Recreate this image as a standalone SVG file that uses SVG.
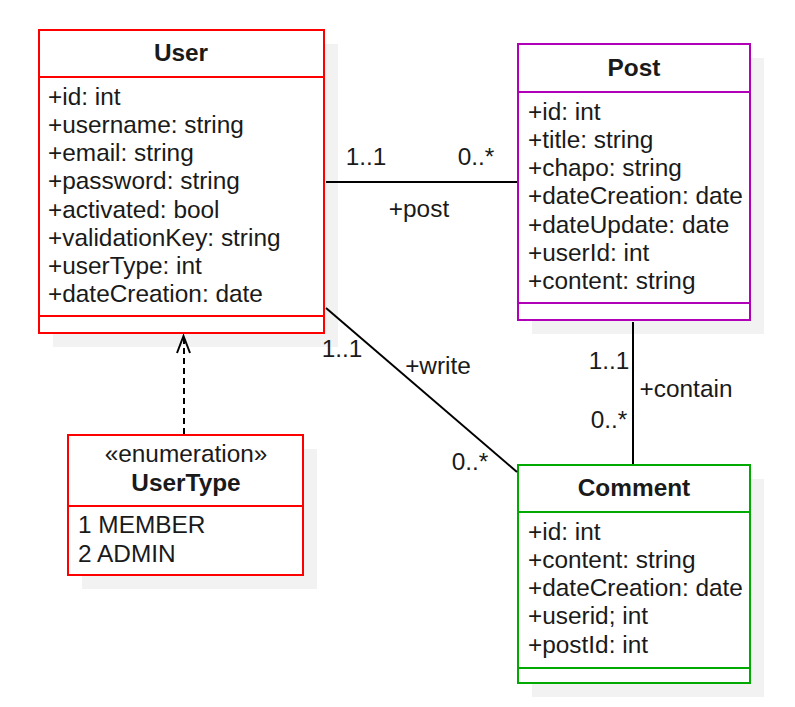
<svg xmlns="http://www.w3.org/2000/svg" width="795" height="707" viewBox="0 0 795 707">
<style>
text{font-family:"Liberation Sans",Arial,sans-serif;font-size:24.4px;fill:#1a1a1a}
.t{font-weight:bold;text-anchor:middle}
.c{text-anchor:middle}
.sh{fill:#f2f2f2;stroke:none}
.box{fill:#fff;stroke-width:2}
.ln{stroke-width:2;fill:none}
.e{stroke:#000;stroke-width:2;fill:none}
</style>
<g id="User">
<rect class="sh" x="53" y="44" width="285" height="303"/>
<rect class="box" x="39" y="30" width="285" height="303" stroke="#ff0000"/>
<line class="ln" x1="39" y1="77" x2="324" y2="77" stroke="#ff0000"/>
<line class="ln" x1="39" y1="316" x2="324" y2="316" stroke="#ff0000"/>
<text x="181" y="61" class="t">User</text>
<text x="48" y="105">+id: int</text>
<text x="48" y="133">+username: string</text>
<text x="48" y="161">+email: string</text>
<text x="48" y="189">+password: string</text>
<text x="48" y="218">+activated: bool</text>
<text x="48" y="246">+validationKey: string</text>
<text x="48" y="274">+userType: int</text>
<text x="48" y="302">+dateCreation: date</text>
</g>
<g id="Post">
<rect class="sh" x="532" y="58" width="232" height="276"/>
<rect class="box" x="518" y="44" width="232" height="276" stroke="#b000b8"/>
<line class="ln" x1="518" y1="92" x2="750" y2="92" stroke="#b000b8"/>
<line class="ln" x1="518" y1="303" x2="750" y2="303" stroke="#b000b8"/>
<text x="634" y="76" class="t">Post</text>
<text x="528" y="120">+id: int</text>
<text x="528" y="148">+title: string</text>
<text x="528" y="176">+chapo: string</text>
<text x="528" y="204">+dateCreation: date</text>
<text x="528" y="233">+dateUpdate: date</text>
<text x="528" y="261">+userId: int</text>
<text x="528" y="289">+content: string</text>
</g>
<g id="Comment">
<rect class="sh" x="532" y="479" width="232" height="218"/>
<rect class="box" x="518" y="465" width="232" height="218" stroke="#00aa00"/>
<line class="ln" x1="518" y1="512" x2="750" y2="512" stroke="#00aa00"/>
<line class="ln" x1="518" y1="668" x2="750" y2="668" stroke="#00aa00"/>
<text x="634" y="496" class="t">Comment</text>
<text x="528" y="540">+id: int</text>
<text x="528" y="568">+content: string</text>
<text x="528" y="596">+dateCreation: date</text>
<text x="528" y="624">+userid; int</text>
<text x="528" y="653">+postId: int</text>
</g>
<g id="UserType">
<rect class="sh" x="82" y="449" width="235" height="140"/>
<rect class="box" x="68" y="435" width="235" height="140" stroke="#ff0000"/>
<line class="ln" x1="68" y1="506" x2="303" y2="506" stroke="#ff0000"/>
<text x="186" y="462" class="c">«enumeration»</text>
<text x="186" y="491" class="t">UserType</text>
<text x="78" y="533">1 MEMBER</text>
<text x="78" y="562">2 ADMIN</text>
</g>
<g id="connectors">
<line class="e" x1="326" y1="182" x2="517" y2="182"/>
<line class="e" x1="326" y1="308" x2="517" y2="472"/>
<line class="e" x1="633" y1="322" x2="633" y2="464"/>
<path d="M184,434 V336" stroke="#000" stroke-width="2" fill="none" stroke-dasharray="6,4"/>
<path d="M177,353 L183.5,336 L190,353" fill="none" stroke="#000" stroke-width="2"/>
<text x="366" y="165" class="c">1..1</text>
<text x="476" y="165" class="c">0..*</text>
<text x="419" y="217" class="c">+post</text>
<text x="342" y="357" class="c">1..1</text>
<text x="438" y="374" class="c">+write</text>
<text x="470" y="470" class="c">0..*</text>
<text x="609" y="369" class="c">1..1</text>
<text x="686" y="397" class="c">+contain</text>
<text x="609" y="428" class="c">0..*</text>
</g>
</svg>
